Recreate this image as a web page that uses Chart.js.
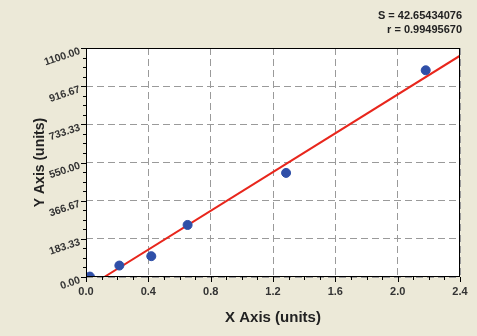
<!DOCTYPE html>
<html>
<head>
<meta charset="utf-8">
<script src="https://cdn.jsdelivr.net/npm/chart.js@4"></script>
<style>
  body { margin: 0; background: #ECE9D8; }
  canvas { display: block; }
</style>
</head>
<body>
<canvas id="chart" width="477" height="336"></canvas>
<script>
// data
const xValues = [0.025, 0.214, 0.419, 0.652, 1.284, 2.18];
const yValues = [2, 55, 100, 250, 500, 993];
const fitX = [0.117, 2.4];
const fitY = [0, 1063];
const xTicks = [0, 0.4, 0.8, 1.2, 1.6, 2.0, 2.4];
const yTicks = [0, 183.33, 366.67, 550, 733.33, 916.67, 1100];
const yTickLabels = ['0.00', '183.33', '366.67', '550.00', '733.33', '916.67', '1100.00'];
const statLines = ['S = 42.65434076', 'r = 0.99495670'];

const points = xValues.map((x, i) => ({x: x, y: yValues[i]}));
const fitLine = fitX.map((x, i) => ({x: x, y: fitY[i]}));

// background, plot frame, minor ticks, slanted y labels, stats text
const decor = {
  id: 'decor',
  beforeDraw(chart) {
    const {ctx, chartArea: a} = chart;
    ctx.save();
    ctx.fillStyle = '#ECE9D8';
    ctx.fillRect(0, 0, chart.width, chart.height);
    ctx.fillStyle = '#fff';
    ctx.fillRect(a.left, a.top, a.right - a.left, a.bottom - a.top);
    ctx.restore();
  },
  afterDraw(chart) {
    const {ctx, chartArea: a, scales: {x, y}} = chart;
    ctx.save();
    ctx.strokeStyle = '#000';
    ctx.lineWidth = 1;
    ctx.strokeRect(a.left + 0.5, a.top + 0.5, a.right - a.left - 1, a.bottom - a.top - 1);

    // major + minor ticks, 4 subdivisions per major step
    ctx.beginPath();
    for (let i = 0; i < xTicks.length; i++) {
      const px = Math.round(x.getPixelForValue(xTicks[i])) + 0.5;
      ctx.moveTo(px, a.bottom);
      ctx.lineTo(px, a.bottom + 5);
      if (i === xTicks.length - 1) break;
      for (let k = 1; k < 4; k++) {
        const mx = Math.round(x.getPixelForValue(xTicks[i] + (xTicks[i + 1] - xTicks[i]) * k / 4)) + 0.5;
        ctx.moveTo(mx, a.bottom);
        ctx.lineTo(mx, a.bottom + 3);
      }
    }
    for (let i = 0; i < yTicks.length; i++) {
      const py = Math.round(y.getPixelForValue(yTicks[i])) + 0.5;
      ctx.moveTo(a.left - 5, py);
      ctx.lineTo(a.left, py);
      if (i === yTicks.length - 1) break;
      for (let k = 1; k < 4; k++) {
        const my = Math.round(y.getPixelForValue(yTicks[i] + (yTicks[i + 1] - yTicks[i]) * k / 4)) + 0.5;
        ctx.moveTo(a.left - 3, my);
        ctx.lineTo(a.left, my);
      }
    }
    ctx.stroke();

    // slanted y tick labels
    ctx.fillStyle = '#333';
    ctx.font = 'bold 10.5px "Liberation Sans", Arial, sans-serif';
    ctx.textAlign = 'right';
    ctx.textBaseline = 'middle';
    yTicks.forEach((v, i) => {
      const py = y.getPixelForValue(v);
      ctx.save();
      ctx.translate(a.left - 6, py + 3);
      ctx.rotate(-0.32);
      ctx.fillText(yTickLabels[i], 0, 0);
      ctx.restore();
    });

    // regression stats
    ctx.fillStyle = '#222';
    ctx.font = 'bold 11px "Liberation Sans", Arial, sans-serif';
    ctx.fillText(statLines[0], 462, 16);
    ctx.fillText(statLines[1], 462, 30);
    ctx.restore();
  }
};

const gridOpts = {
  color: '#9a9a9a',
  drawTicks: false
};

new Chart(document.getElementById('chart'), {
  type: 'scatter',
  data: {
    datasets: [
      {
        label: 'fit',
        type: 'line',
        data: fitLine,
        borderColor: '#E8261C',
        borderWidth: 2,
        pointRadius: 0,
        fill: false,
        order: 2
      },
      {
        label: 'points',
        data: points,
        backgroundColor: '#2F4FA8',
        borderColor: '#2F4FA8',
        pointRadius: 4.5,
        order: 1
      }
    ]
  },
  options: {
    responsive: false,
    animation: false,
    layout: { padding: { top: 48, right: 17, left: 0, bottom: 0 } },
    plugins: {
      legend: { display: false },
      tooltip: { enabled: false }
    },
    scales: {
      x: {
        type: 'linear',
        min: 0,
        max: 2.4,
        afterBuildTicks: s => { s.ticks = xTicks.map(v => ({value: v})); },
        afterFit: s => { s.height = 59; },
        ticks: {
          callback: v => Number(v).toFixed(1),
          color: '#333',
          font: { family: '"Liberation Sans", Arial, sans-serif', size: 11, weight: 'bold' },
          padding: 8,
          maxRotation: 0
        },
        grid: gridOpts,
        border: { display: false, dash: [7, 4] },
        title: {
          display: true,
          text: 'X Axis (units)',
          color: '#222',
          font: { family: '"Liberation Sans", Arial, sans-serif', size: 15, weight: 'bold' },
          padding: { top: 0, bottom: 9 }
        }
      },
      y: {
        type: 'linear',
        min: 0,
        max: 1100,
        afterBuildTicks: s => { s.ticks = yTicks.map(v => ({value: v})); },
        afterFit: s => { s.width = 86; },
        ticks: { display: false },
        grid: gridOpts,
        border: { display: false, dash: [7, 4] },
        title: {
          display: true,
          text: 'Y Axis (units)',
          color: '#222',
          font: { family: '"Liberation Sans", Arial, sans-serif', size: 14, weight: 'bold' },
          padding: { top: 32, bottom: 0 }
        }
      }
    }
  },
  plugins: [decor]
});
</script>
</body>
</html>
